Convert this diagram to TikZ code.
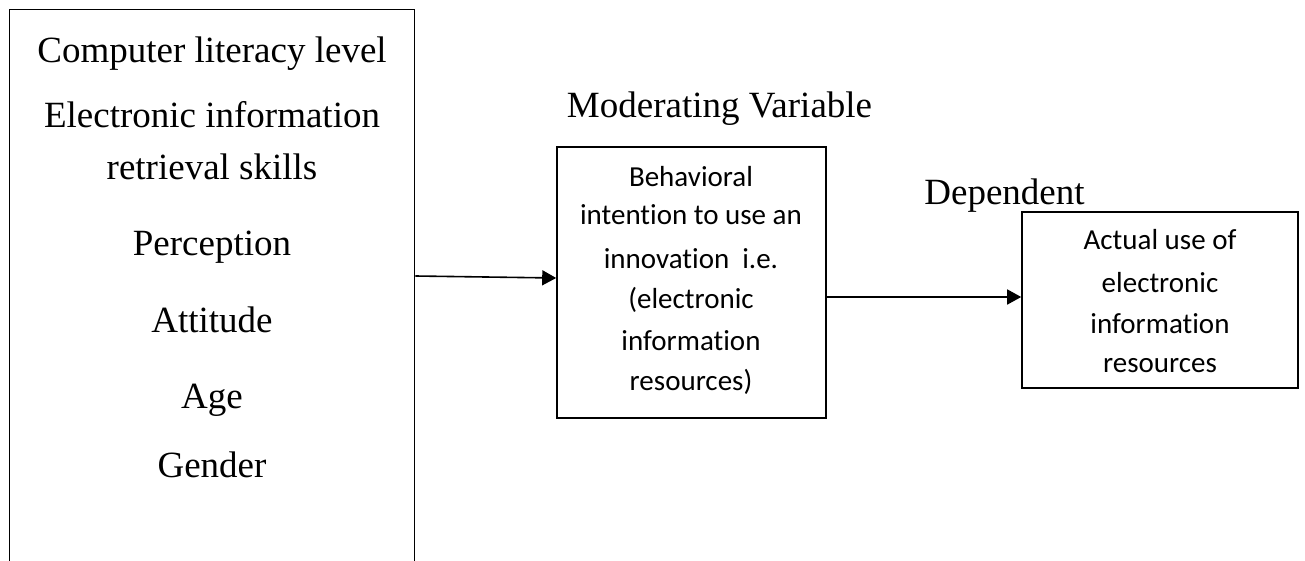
\documentclass[tikz,border=0pt]{standalone}
\usepackage{fontspec}
\setmainfont{Liberation Serif}
\newfontfamily\boxfont{Carlito}[Ligatures={NoCommon,NoContextual}]
\usetikzlibrary{arrows.meta}

\begin{document}
\begin{tikzpicture}[x=1pt, y=-1pt,
    box/.style={draw, line width=1.6pt, inner sep=0pt}, % Plain frames
    item/.style={anchor=base, font=\fontsize{37}{40}\selectfont}, % Serif labels
    small/.style={anchor=base, font=\boxfont\fontsize{29}{34}\selectfont}, % Text in boxes
    link/.style={line width=1.6pt, -{Triangle[length=14pt, width=15pt]}} % Arrows
]

    \useasboundingbox (0,0) rectangle (1305,561);

    % Frames (the left one runs past the bottom edge)
    \node[box, minimum width=405pt, minimum height=571pt] (indep) at (212,295) {};
    \node[box, minimum width=269pt, minimum height=271pt] (moder) at (691.5,282.5) {};
    \node[box, minimum width=276pt, minimum height=176pt] (dep) at (1160,300) {};

    % Independent variables
    \node[item] (lit) at (212,63) {Computer literacy level};
    \node[item] (eir) at (212,128) {Electronic information};
    \node[item] (eir2) at (212,180) {retrieval skills};
    \node[item] (perc) at (212,255) {Perception};
    \node[item] (att) at (212,332) {Attitude};
    \node[item] (age) at (212,408) {Age};
    \node[item] (gen) at (212,477) {Gender};

    % Headings
    \node[item] (modtitle) at (719.5,118) {Moderating Variable};
    \node[item] (deptitle) at (1004.5,205) {Dependent};

    % Moderating box text
    \node[small] (m1) at (691,187) {Behavioral};
    \node[small] (m2) at (691,225) {intention to use an};
    \node[small] (m3) at (691,268) {innovation\ \ i.e.};
    \node[small] (m4) at (691,308) {(electronic};
    \node[small] (m5) at (691,350) {information};
    \node[small] (m6) at (691,390) {resources)};

    % Dependent box text
    \node[small] (d1) at (1160,250) {Actual use of};
    \node[small] (d2) at (1160,292) {electronic};
    \node[small] (d3) at (1160,333) {information};
    \node[small] (d4) at (1160,372) {resources};

    % Arrows
    \draw[link] ([yshift=19pt]indep.east) -- ([yshift=4.5pt]moder.west);
    \draw[link] (moder.east |- 0,297) -- (dep.west |- 0,297);

\end{tikzpicture}
\end{document}
